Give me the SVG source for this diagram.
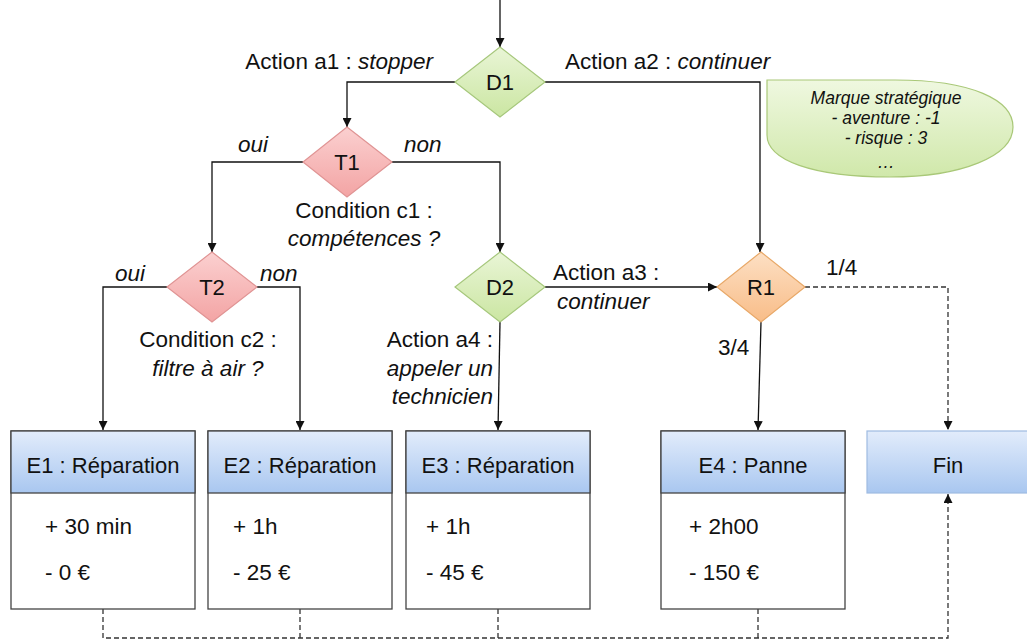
<svg xmlns="http://www.w3.org/2000/svg" width="1027" height="641" viewBox="0 0 1027 641">
<style>
text{font-family:"Liberation Sans",Arial,sans-serif;fill:#111;}
.lbl{font-size:22.5px;}
.it{font-style:italic;}
.ttl{font-size:22px;text-anchor:middle;}
.body{font-size:22.5px;}
.dn{font-size:22px;text-anchor:middle;}
.co{font-size:17.5px;font-style:italic;text-anchor:middle;}
.ln{fill:none;stroke:#111;stroke-width:1.3;}
.dash{fill:none;stroke:#333;stroke-width:1.3;stroke-dasharray:5 3;}
.box{fill:#fff;stroke:#444;stroke-width:1.3;}
.hdr{fill:url(#gBlue);stroke:#444;stroke-width:1.3;}
</style>
<defs>
<linearGradient id="gBlue" x1="0" y1="0" x2="0" y2="1">
<stop offset="0" stop-color="#e2ecfb"/><stop offset="1" stop-color="#a9c7f0"/>
</linearGradient>
<linearGradient id="gGreen" x1="0" y1="0" x2="0" y2="1">
<stop offset="0" stop-color="#e9f5d6"/><stop offset="1" stop-color="#cbe6a2"/>
</linearGradient>
<linearGradient id="gRed" x1="0" y1="0" x2="0" y2="1">
<stop offset="0" stop-color="#fbd0d0"/><stop offset="1" stop-color="#f3a4a4"/>
</linearGradient>
<linearGradient id="gOrange" x1="0" y1="0" x2="0" y2="1">
<stop offset="0" stop-color="#fde0c4"/><stop offset="1" stop-color="#f8bd88"/>
</linearGradient>
<linearGradient id="gCallout" x1="0" y1="0" x2="0" y2="1">
<stop offset="0" stop-color="#eff8e0"/><stop offset="1" stop-color="#d0e8aa"/>
</linearGradient>
<marker id="arr" markerWidth="9" markerHeight="9" refX="9" refY="4.5" orient="auto" markerUnits="userSpaceOnUse">
<path d="M0,0 L9,4.5 L0,9 z" fill="#111"/>
</marker>
</defs>
<rect width="1027" height="641" fill="#fff"/>

<g id="connectors">
<line class="ln" x1="500" y1="0" x2="500" y2="47" marker-end="url(#arr)"/>
<polyline class="ln" points="455,82 347,82 347,127" marker-end="url(#arr)"/>
<polyline class="ln" points="545,82 760,82 760,252" marker-end="url(#arr)"/>
<polyline class="ln" points="303,162 212,162 212,252" marker-end="url(#arr)"/>
<polyline class="ln" points="392,162 500,162 500,252" marker-end="url(#arr)"/>
<polyline class="ln" points="167,287 103,287 103,430" marker-end="url(#arr)"/>
<polyline class="ln" points="257,287 300,287 300,430" marker-end="url(#arr)"/>
<line class="ln" x1="500" y1="322" x2="498" y2="430" marker-end="url(#arr)"/>
<line class="ln" x1="545" y1="287" x2="717" y2="287" marker-end="url(#arr)"/>
<line class="ln" x1="761" y1="322" x2="758" y2="430" marker-end="url(#arr)"/>
<polyline class="dash" points="805,287 948,287 948,430" marker-end="url(#arr)"/>
<polyline class="dash" points="103,609 103,638 948,638 948,494" marker-end="url(#arr)"/>
<line class="dash" x1="300" y1="609" x2="300" y2="638"/>
<line class="dash" x1="498" y1="609" x2="498" y2="638"/>
<line class="dash" x1="758" y1="609" x2="758" y2="638"/>
</g>

<g id="labels">
<text class="lbl" x="433" y="69" text-anchor="end">Action a1 : <tspan class="it">stopper</tspan></text>
<text class="lbl" x="565" y="69">Action a2 : <tspan class="it">continuer</tspan></text>
<text class="lbl it" x="238" y="152">oui</text>
<text class="lbl it" x="404" y="152">non</text>
<text class="lbl" x="364" y="218" text-anchor="middle">Condition c1 :</text>
<text class="lbl it" x="364" y="246" text-anchor="middle">compétences ?</text>
<text class="lbl it" x="115" y="281">oui</text>
<text class="lbl it" x="260" y="281">non</text>
<text class="lbl" x="208" y="347" text-anchor="middle">Condition c2 :</text>
<text class="lbl it" x="208" y="376" text-anchor="middle">filtre à air ?</text>
<text class="lbl" x="493" y="347" text-anchor="end">Action a4 :</text>
<text class="lbl it" x="493" y="376" text-anchor="end">appeler un</text>
<text class="lbl it" x="493" y="404" text-anchor="end">technicien</text>
<text class="lbl" x="553" y="280">Action a3 :</text>
<text class="lbl it" x="557" y="309">continuer</text>
<text class="lbl" x="718" y="355">3/4</text>
<text class="lbl" x="826" y="275">1/4</text>
</g>

<g id="callout">
<path d="M767,80 H895 C972,80 1013,100 1013,127 C1013,156 962,177 890,177 C812,177 767,160 767,135 Z" fill="url(#gCallout)" stroke="#a9c878" stroke-width="1.2"/>
<text class="co" x="886" y="104">Marque stratégique</text>
<text class="co" x="886" y="124">- aventure : -1</text>
<text class="co" x="886" y="144">- risque : 3</text>
<text class="co" x="886" y="168">…</text>
</g>

<g id="D1">
<polygon points="500,47 545,82 500,117 455,82" fill="url(#gGreen)" stroke="#a6c77c" stroke-width="1.2"/>
<text class="dn" x="500" y="90">D1</text>
</g>
<g id="T1">
<polygon points="347,127 392,162 347,197 303,162" fill="url(#gRed)" stroke="#e09494" stroke-width="1.2"/>
<text class="dn" x="347" y="170">T1</text>
</g>
<g id="T2">
<polygon points="212,252 257,287 212,322 167,287" fill="url(#gRed)" stroke="#e09494" stroke-width="1.2"/>
<text class="dn" x="212" y="295">T2</text>
</g>
<g id="D2">
<polygon points="500,252 545,287 500,322 455,287" fill="url(#gGreen)" stroke="#a6c77c" stroke-width="1.2"/>
<text class="dn" x="500" y="295">D2</text>
</g>
<g id="R1">
<polygon points="761,252 805,287 761,322 717,287" fill="url(#gOrange)" stroke="#e8a868" stroke-width="1.2"/>
<text class="dn" x="761" y="295">R1</text>
</g>

<g id="E1">
<rect class="box" x="11" y="431" width="184" height="178"/>
<rect class="hdr" x="11" y="431" width="184" height="62"/>
<text class="ttl" x="103" y="473">E1 : Réparation</text>
<text class="body" x="45" y="534">+ 30 min</text>
<text class="body" x="45" y="580">- 0 €</text>
</g>
<g id="E2">
<rect class="box" x="208" y="431" width="184" height="178"/>
<rect class="hdr" x="208" y="431" width="184" height="62"/>
<text class="ttl" x="300" y="473">E2 : Réparation</text>
<text class="body" x="233" y="534">+ 1h</text>
<text class="body" x="233" y="580">- 25 €</text>
</g>
<g id="E3">
<rect class="box" x="406" y="431" width="184" height="178"/>
<rect class="hdr" x="406" y="431" width="184" height="62"/>
<text class="ttl" x="498" y="473">E3 : Réparation</text>
<text class="body" x="426" y="534">+ 1h</text>
<text class="body" x="426" y="580">- 45 €</text>
</g>
<g id="E4">
<rect class="box" x="661" y="431" width="184" height="178"/>
<rect class="hdr" x="661" y="431" width="184" height="62"/>
<text class="ttl" x="753" y="473">E4 : Panne</text>
<text class="body" x="689" y="534">+ 2h00</text>
<text class="body" x="689" y="580">- 150 €</text>
</g>
<g id="Fin">
<rect x="867" y="431" width="170" height="62" fill="url(#gBlue)" stroke="#9fbbe2" stroke-width="1.2"/>
<text class="ttl" x="948" y="473">Fin</text>
</g>
</svg>
